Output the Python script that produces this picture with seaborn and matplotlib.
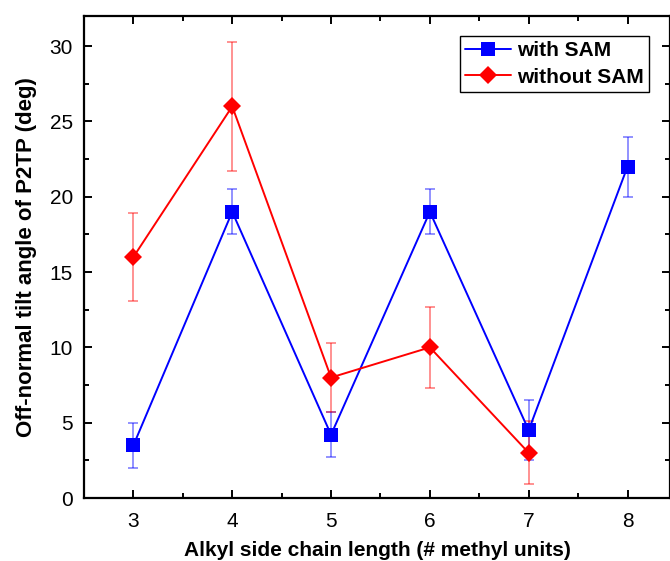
import matplotlib
matplotlib.use("Agg")
import matplotlib.pyplot as plt
import seaborn as sns
import pandas as pd
from matplotlib.ticker import MultipleLocator

chain_length = [3, 4, 5, 6, 7, 8]
with_sam = [3.5, 19.0, 4.2, 19.0, 4.5, 22.0]
with_sam_err = [1.5, 1.5, 1.5, 1.5, 2.0, 2.0]
chain_length_wo = [3, 4, 5, 6, 7]
without_sam = [16.0, 26.0, 8.0, 10.0, 3.0]
without_sam_err = [2.9, 4.3, 2.3, 2.7, 2.1]

sns.set_theme(style="ticks")
plt.rcParams['font.family'] = ['Liberation Sans', 'DejaVu Sans']
plt.rcParams['text.color'] = 'black'
plt.rcParams['axes.labelcolor'] = 'black'
plt.rcParams['xtick.color'] = 'black'
plt.rcParams['ytick.color'] = 'black'

df = pd.concat([
    pd.DataFrame({"x": chain_length, "y": with_sam, "series": "with SAM"}),
    pd.DataFrame({"x": chain_length_wo, "y": without_sam, "series": "without SAM"}),
])

fig = plt.figure(figsize=(6.7, 5.61), dpi=100)
ax = fig.add_axes([84/670, 63/561, 586/670, (498-16)/561])

colors = {"with SAM": "#0000FF", "without SAM": "#FF0000"}
ax.errorbar(chain_length, with_sam, yerr=with_sam_err, fmt='none',
            ecolor=colors["with SAM"], alpha=0.5, elinewidth=1.2, capsize=3.6, capthick=1.2, zorder=1)
ax.errorbar(chain_length_wo, without_sam, yerr=without_sam_err, fmt='none',
            ecolor=colors["without SAM"], alpha=0.5, elinewidth=1.2, capsize=3.6, capthick=1.2, zorder=1)

sns.lineplot(data=df, x="x", y="y", hue="series", style="series",
             palette=colors, markers={"with SAM": "s", "without SAM": "D"},
             dashes=False, markersize=9.5, markeredgewidth=0, linewidth=1.4,
             ax=ax, zorder=3)

ax.set_xlim(2.5, 8.43)
ax.set_ylim(0, 32)
ax.xaxis.set_major_locator(MultipleLocator(1))
ax.xaxis.set_minor_locator(MultipleLocator(0.5))
ax.yaxis.set_major_locator(MultipleLocator(5))
ax.yaxis.set_minor_locator(MultipleLocator(2.5))
ax.tick_params(which='both', direction='in', top=True, right=True, width=1.4,
               color='black', labelcolor='black')
ax.tick_params(which='major', length=6, labelsize=15)
ax.tick_params(axis='y', which='major', pad=8)
ax.tick_params(axis='x', which='major', pad=10)
ax.tick_params(which='minor', length=3.5)
for s in ax.spines.values():
    s.set_linewidth(1.6)
    s.set_color('black')

ax.set_xlabel("Alkyl side chain length (# methyl units)", fontsize=15, fontweight='bold',
              labelpad=7, color='black')
ax.set_ylabel("Off-normal tilt angle of P2TP (deg)", fontsize=16, fontweight='bold',
              labelpad=9, color='black')

handles, labels = ax.get_legend_handles_labels()
leg = ax.legend(handles, labels, loc='upper right', bbox_to_anchor=(0.965, 0.958),
                frameon=True, fancybox=False, edgecolor='black', framealpha=1,
                prop={'weight': 'bold', 'size': 15}, borderpad=0.25, borderaxespad=0,
                handlelength=2.2, handletextpad=0.3, labelspacing=0.35)
leg.get_frame().set_linewidth(1.0)
for t in leg.get_texts():
    t.set_color('black')

fig.savefig("out.png", dpi=100)
